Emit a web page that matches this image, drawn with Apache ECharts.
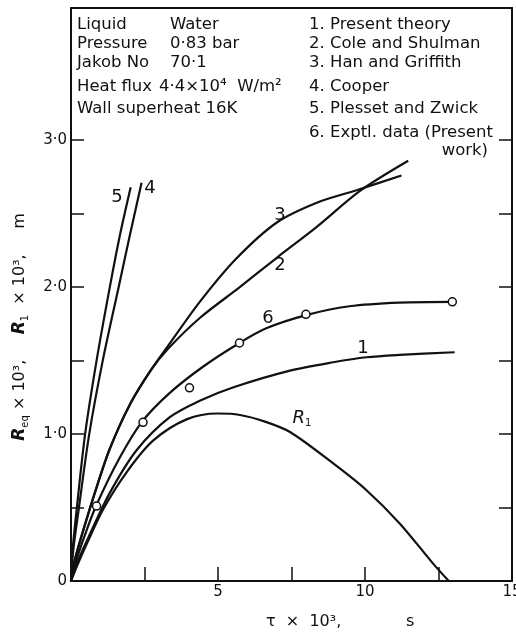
<!DOCTYPE html>
<html>
<head>
<meta charset="utf-8">
<script src="https://cdn.jsdelivr.net/npm/echarts@6/dist/echarts.min.js"></script>
<style>
html,body{margin:0;padding:0;background:#fff;}
#chart{width:516px;height:633px;}
</style>
</head>
<body>
<div id="chart"></div>
<script>
// ---- data (tau x 10^3 s , R x 10^3 m) ----
const xTickValues = [2.5, 5, 7.5, 10, 12.5];
const xLabelValues = [5, 10, 15];
const yTickValues = [0.5, 1, 1.5, 2, 2.5, 3];
const yLabelValues = [0, 1, 2, 3];

const c1_x = [0, 0.2, 0.6, 1.32, 2.23, 3.36, 4.40, 5.53, 7.45, 8.92, 10.05, 11.18, 13.05];
const c1_y = [0, 0.12, 0.30, 0.60, 0.89, 1.115, 1.229, 1.319, 1.432, 1.489, 1.523, 1.539, 1.557];

const c2_x = [0, 0.1, 0.35, 0.81, 1.32, 2.0, 2.7, 3.3, 4.38, 5.74, 7.0, 8.36, 9.83, 11.47];
const c2_y = [0, 0.12, 0.30, 0.60, 0.90, 1.20, 1.43, 1.58, 1.79, 2.0, 2.20, 2.41, 2.655, 2.86];

const c3_x = [0, 0.1, 0.35, 0.81, 1.32, 2.0, 2.7, 3.3, 4.38, 5.6, 7.0, 8.36, 9.71, 11.24];
const c3_y = [0, 0.12, 0.30, 0.60, 0.90, 1.20, 1.43, 1.60, 1.90, 2.19, 2.44, 2.575, 2.66, 2.76];

const c4_x = [0, 0.07, 0.27, 0.62, 1.08, 1.62, 2.02, 2.40];
const c4_y = [0, 0.2, 0.5, 1.0, 1.5, 2.0, 2.37, 2.71];

const c5_x = [0, 0.05, 0.2, 0.48, 0.87, 1.32, 1.66, 2.03];
const c5_y = [0, 0.2, 0.5, 1.0, 1.5, 2.0, 2.35, 2.68];

const c6_x = [0, 0.15, 0.45, 0.85, 1.66, 2.40, 3.36, 4.5, 5.73, 6.64, 8.0, 9.47, 11.17, 12.97];
const c6_y = [0, 0.12, 0.30, 0.51, 0.84, 1.08, 1.28, 1.46, 1.62, 1.72, 1.81, 1.87, 1.895, 1.90];

const exp_x = [0.87, 2.45, 4.03, 5.73, 7.99, 12.97];
const exp_y = [0.51, 1.08, 1.315, 1.62, 1.815, 1.90];

const r1_x = [0, 0.2, 0.53, 1.10, 1.89, 2.79, 3.93, 5.0, 5.75, 6.6, 7.45, 8.92, 10.05, 11.18, 12.31, 12.85];
const r1_y = [0, 0.10, 0.25, 0.49, 0.74, 0.955, 1.10, 1.14, 1.13, 1.085, 1.014, 0.80, 0.618, 0.392, 0.12, 0];

const infoLabels = ['Liquid', 'Pressure', 'Jakob No', 'Heat flux', 'Wall superheat 16K'];
const infoValues = ['Water', '0·83 bar', '70·1', '4·4×10⁴  W/m²'];
const curveNames = ['1. Present theory', '2. Cole and Shulman', '3. Han and Griffith', '4. Cooper', '5. Plesset and Zwick', '6. Exptl. data (Present'];

// ---- helpers ----
const zip = (xs, ys) => xs.map((x, i) => [x, ys[i]]);
const FONT = 'DejaVu Sans';
const INK = '#111';
const TXT = '16.5px "' + FONT + '"';

function curve(xs, ys) {
  return {
    type: 'line', data: zip(xs, ys), smooth: 0.3,
    showSymbol: false, symbol: 'none', silent: true,
    lineStyle: { color: INK, width: 2.2 }, z: 3
  };
}

const rowY = [24.7, 44, 62.3, 86.7, 109, 132.3];
const graphics = [];
infoLabels.forEach((t, i) => graphics.push({ type: 'text', x: 77, y: rowY[i], style: { text: t, font: TXT, fill: INK, verticalAlign: 'middle' } }));
infoValues.forEach((t, i) => graphics.push({ type: 'text', x: i === 3 ? 159 : 170, y: rowY[i], style: { text: t, font: TXT, fill: INK, verticalAlign: 'middle' } }));
curveNames.forEach((t, i) => graphics.push({ type: 'text', x: 309, y: rowY[i], style: { text: t, font: TXT, fill: INK, verticalAlign: 'middle' } }));
graphics.push({ type: 'text', x: 488, y: 150.7, style: { text: 'work)', font: TXT, fill: INK, align: 'right', verticalAlign: 'middle' } });

// curve number labels
const curveLabels = [['5', 117, 197], ['4', 150, 188], ['3', 280, 215], ['2', 280, 265], ['6', 268, 318], ['1', 363, 348]];
curveLabels.forEach(([t, x, y]) => graphics.push({ type: 'text', x: x, y: y, style: { text: t, font: '18px "' + FONT + '"', fill: INK, align: 'center', verticalAlign: 'middle' } }));
graphics.push({ type: 'text', x: 302, y: 418, style: { text: '{r|R}{s|1}', align: 'center', verticalAlign: 'middle', rich: {
  r: { fontFamily: FONT, fontSize: 18, fontStyle: 'italic', fill: INK, color: INK, lineHeight: 20, verticalAlign: 'middle' },
  s: { fontFamily: FONT, fontSize: 10, fill: INK, color: INK, lineHeight: 10, verticalAlign: 'bottom' } } } });

// y axis title (rotated)
graphics.push({ type: 'text', x: 20, y: 327, rotation: Math.PI / 2, style: {
  text: '{r|R}{s|eq}{n| × 10³,     }{r|R}{s|1}{n|  × 10³,     m}', align: 'center', verticalAlign: 'middle', rich: {
    r: { fontFamily: FONT, fontSize: 17, fontStyle: 'italic', fontWeight: 'bold', fill: INK, color: INK, lineHeight: 20, verticalAlign: 'middle' },
    s: { fontFamily: FONT, fontSize: 10, fill: INK, color: INK, lineHeight: 10, verticalAlign: 'bottom' },
    n: { fontFamily: FONT, fontSize: 16, fill: INK, color: INK, lineHeight: 20, verticalAlign: 'middle' } } } });

// x axis title
graphics.push({ type: 'text', x: 266, y: 622, style: { text: 'τ  ×  10³,', font: '16px "' + FONT + '"', fill: INK, verticalAlign: 'middle' } });
graphics.push({ type: 'text', x: 406, y: 622, style: { text: 's', font: '16px "' + FONT + '"', fill: INK, verticalAlign: 'middle' } });

const axisLineStyle = { color: INK, width: 2 };
const option = {
  animation: false,
  backgroundColor: '#fff',
  grid: { left: 71, right: 4, top: 8, bottom: 52, containLabel: false, outerBoundsMode: 'none' },
  xAxis: [
    { type: 'value', min: 0, max: 15, position: 'bottom',
      axisLine: { show: true, onZero: false, lineStyle: axisLineStyle },
      axisTick: { show: true, inside: true, length: 14, customValues: xTickValues, lineStyle: { color: INK, width: 1.5 } },
      axisLabel: { show: true, customValues: xLabelValues, fontFamily: FONT, fontSize: 15, color: INK, margin: 4, hideOverlap: false },
      splitLine: { show: false } },
    { type: 'value', min: 0, max: 15, position: 'top',
      axisLine: { show: true, onZero: false, lineStyle: axisLineStyle },
      axisTick: { show: false }, axisLabel: { show: false }, splitLine: { show: false } }
  ],
  yAxis: [
    { type: 'value', min: 0, max: 3.9, position: 'left',
      axisLine: { show: true, onZero: false, lineStyle: axisLineStyle },
      axisTick: { show: true, inside: true, length: 13, customValues: yTickValues, lineStyle: { color: INK, width: 1.5 } },
      axisLabel: { show: true, customValues: yLabelValues, fontFamily: FONT, fontSize: 15, color: INK, margin: 4,
        formatter: v => (v === 0 ? '0' : v + '·0') },
      splitLine: { show: false } },
    { type: 'value', min: 0, max: 3.9, position: 'right',
      axisLine: { show: true, onZero: false, lineStyle: axisLineStyle },
      axisTick: { show: true, inside: true, length: 13, customValues: yTickValues, lineStyle: { color: INK, width: 1.5 } },
      axisLabel: { show: false }, splitLine: { show: false } }
  ],
  series: [
    curve(c1_x, c1_y), curve(c2_x, c2_y), curve(c3_x, c3_y), curve(c4_x, c4_y),
    curve(c5_x, c5_y), curve(c6_x, c6_y), curve(r1_x, r1_y),
    { type: 'scatter', data: zip(exp_x, exp_y), symbol: 'circle', symbolSize: 8, silent: true, z: 5,
      itemStyle: { color: '#fff', borderColor: INK, borderWidth: 1.5, opacity: 1 } }
  ],
  graphic: graphics
};
const chart = echarts.init(document.getElementById('chart'), null, { renderer: 'canvas' });
chart.setOption(option);
</script>
</body>
</html>
